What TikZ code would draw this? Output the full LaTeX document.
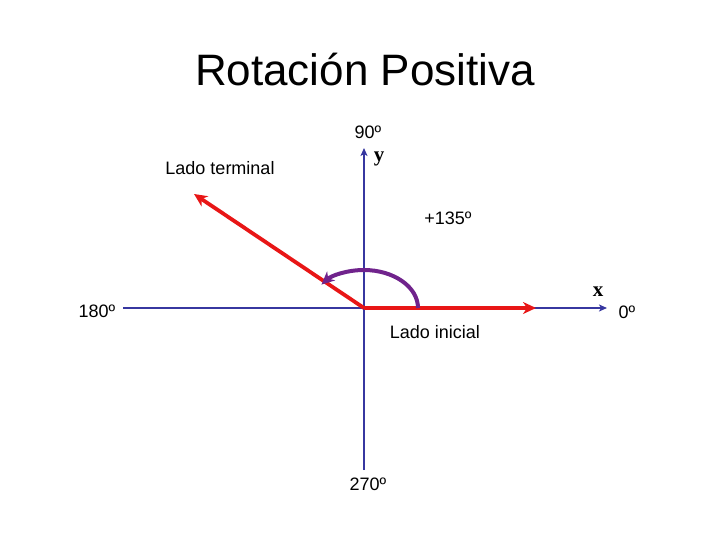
\documentclass[tikz,border=0pt]{standalone}
\usepackage{fontspec}
\setmainfont{Liberation Sans}
\newfontfamily\axfont{Liberation Serif}
\usetikzlibrary{arrows.meta}
\definecolor{axblue}{RGB}{55,55,160}
\definecolor{vecred}{RGB}{232,22,22}
\definecolor{rotpurple}{RGB}{112,35,140}

\begin{document}
\begin{tikzpicture}[x=1pt, y=-1pt,
                    axisarr/.style={-{Stealth[length=8pt, width=7pt, inset=2pt]}, line width = 1.6, draw = axblue},
                    vecarr/.style={-{Stealth[length=13pt, width=12pt, inset=4pt]}, line width = 3.8, draw = vecred},
                    rotarr/.style={-{Stealth[length=13pt, width=12pt, inset=4pt]}, line width = 4, draw = rotpurple},
                    lbl/.style={font=\fontsize{18}{20}\selectfont, inner sep=0},
                    axlbl/.style={font=\fontsize{21}{22}\selectfont\axfont\bfseries, inner sep=0}]

                    \useasboundingbox (0,0) rectangle (728,546);

                    \node[font=\fontsize{44}{48}\selectfont] (title) at (365,70) {Rotación Positiva};

                    \coordinate (O) at (364,308);
                    \coordinate (left) at (123,308);
                    \coordinate (right) at (607,308);
                    \coordinate (bottom) at (364,470);
                    \coordinate (top) at (364,148);
                    \coordinate (inicial) at (536,308);
                    \coordinate (terminal) at (194,194);
                    \coordinate (arcstart) at (418,308);

                    % ejes
                    \draw[axisarr] (left) -- (right);
                    \draw[axisarr] (bottom) -- (top);

                    % lados
                    \draw[vecarr] (O) -- (inicial);
                    \draw[vecarr] (O) -- (terminal);
                    \draw[rotarr] (arcstart) arc[start angle=0, end angle=-142, x radius=54, y radius=38];

                    \node[lbl] (n90) at (368,132) {90º};
                    \node[lbl] (n270) at (368,484) {270º};
                    \node[lbl] (n180) at (97,311) {180º};
                    \node[lbl] (n0) at (627,312) {0º};
                    \node[axlbl] (ylbl) at (379,159) {y};
                    \node[axlbl] (xlbl) at (598,292) {x};
                    \node[lbl] (term) at (220,168) {Lado terminal};
                    \node[lbl] (ini) at (435,332) {Lado inicial};
                    \node[lbl] (ang) at (448,218) {+135º};
                    \end{tikzpicture}
\end{document}
